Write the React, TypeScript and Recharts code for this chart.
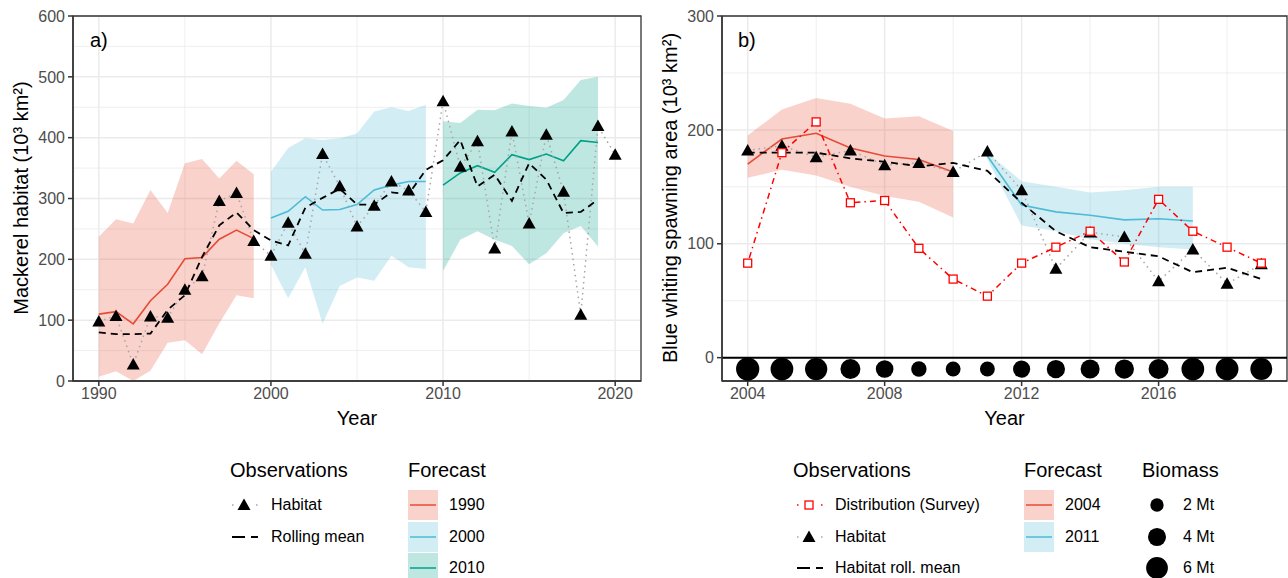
import React from 'react';
import {
  ComposedChart, Line, Area, Scatter, XAxis, YAxis, CartesianGrid, ReferenceLine, ReferenceArea,
} from 'recharts';

const FONT = '"Liberation Sans", Arial, Helvetica, sans-serif';
const RED = '#E64B35';
const BLUE = '#4DBBD5';
const GREEN = '#00A087';

// ---- a) mackerel ----
const mackYears = [1990, 1991, 1992, 1993, 1994, 1995, 1996, 1997, 1998, 1999, 2000, 2001, 2002, 2003, 2004, 2005,
  2006, 2007, 2008, 2009, 2010, 2011, 2012, 2013, 2014, 2015, 2016, 2017, 2018, 2019, 2020];
const mackHabitat = [98, 107, 27, 106, 104, 150, 172, 296, 309, 230, 206, 260, 209, 373, 320, 254,
  288, 328, 313, 278, 460, 352, 394, 218, 410, 259, 405, 311, 109, 419, 372];
// rolling mean 1990-2019
const mackRoll = [80, 77, 77, 78, 117, 141, 204, 256, 277, 248, 231, 223, 285, 301, 316, 290,
  290, 310, 307, 347, 363, 396, 320, 339, 296, 358, 331, 276, 278, 298];

const fc1990Line = [110, 114, 94, 132, 159, 201, 203, 233, 248, 234];
const fc1990Lo = [7, 16, 0, 17, 63, 67, 44, 95, 141, 136];
const fc1990Hi = [237, 266, 259, 314, 276, 358, 365, 333, 362, 340];

const fc2000Line = [268, 279, 303, 281, 282, 290, 314, 322, 328, 328];
const fc2000Lo = [191, 136, 187, 94, 156, 170, 165, 206, 187, 184];
const fc2000Hi = [344, 383, 399, 396, 399, 407, 443, 450, 444, 454];

const fc2010Line = [322, 342, 354, 343, 372, 364, 373, 362, 395, 392];
const fc2010Lo = [181, 232, 246, 232, 222, 192, 210, 243, 255, 221];
const fc2010Hi = [427, 424, 446, 445, 456, 452, 449, 462, 495, 500];

const mackTicksX = [1990, 2000, 2010, 2020];
const mackMinorX = [1995, 2005, 2015];
const mackTicksY = [0, 100, 200, 300, 400, 500, 600];
const mackMinorY = [50, 150, 250, 350, 450, 550];

// ---- b) blue whiting ----
const bwYears = [2004, 2005, 2006, 2007, 2008, 2009, 2010, 2011, 2012, 2013, 2014, 2015, 2016, 2017, 2018, 2019];
const bwSurvey = [83, 180, 207, 136, 138, 96, 69, 54, 83, 97, 111, 84, 139, 111, 97, 83];
const bwHabitat = [182, 186, 176, 182, 169, 171, 163, 181, 147, 78, 110, 106, 67, 95, 65, 82];
const bwRoll = [180, 180, 180, 175, 172, 168, 171, 164, 136, 111, 97, 93, 89, 75, 79, 69];
const bwBiomass = [6.9, 6.6, 6.3, 5.0, 3.8, 2.8, 2.6, 2.6, 3.6, 4.1, 4.5, 4.6, 5.0, 6.6, 6.6, 6.1]; // Mt

const fc2004Line = [170, 192, 197, 184, 177, 174, 163];
const fc2004Lo = [158, 165, 160, 150, 142, 137, 123];
const fc2004Hi = [195, 218, 228, 223, 210, 212, 199];

const fc2011Line = [177, 134, 128, 125, 121, 122, 120];
const fc2011Lo = [174, 116, 111, 104, 100, 97, 95];
const fc2011Hi = [180, 155, 150, 145, 147, 150, 150];

const bwTicksX = [2004, 2008, 2012, 2016];
const bwMinorX = [2006, 2010, 2014, 2018];
const bwTicksY = [0, 100, 200, 300];
const bwMinorY = [50, 150, 250];
const BIOMASS_Y = -10; // strip below zero
const legendBiomass = [2, 4, 6];

// circle area grows linearly with biomass
const bioRadius = (mt: number) => Math.sqrt(30 + 74 * mt) / 2;

function forecastAt(year: number, start: number, line: number[], lo: number[], hi: number[]) {
  const i = year - start;
  if (i < 0 || i >= line.length) return { line: null, band: null };
  return { line: line[i], band: [lo[i], hi[i]] };
}

const mackRows = mackYears.map((year, i) => {
  const a = forecastAt(year, 1990, fc1990Line, fc1990Lo, fc1990Hi);
  const b = forecastAt(year, 2000, fc2000Line, fc2000Lo, fc2000Hi);
  const c = forecastAt(year, 2010, fc2010Line, fc2010Lo, fc2010Hi);
  return {
    year,
    habitat: mackHabitat[i],
    roll: i < mackRoll.length ? mackRoll[i] : null,
    f1990: a.line, b1990: a.band,
    f2000: b.line, b2000: b.band,
    f2010: c.line, b2010: c.band,
  };
});

const bwRows = bwYears.map((year, i) => {
  const a = forecastAt(year, 2004, fc2004Line, fc2004Lo, fc2004Hi);
  const b = forecastAt(year, 2011, fc2011Line, fc2011Lo, fc2011Hi);
  return {
    year,
    survey: bwSurvey[i],
    habitat: bwHabitat[i],
    roll: bwRoll[i],
    biomass: bwBiomass[i],
    bioY: BIOMASS_Y,
    f2004: a.line, b2004: a.band,
    f2011: b.line, b2011: b.band,
  };
});

const TriangleDot = (props: any) => {
  const { cx, cy, index } = props;
  if (cx == null || cy == null) return <g key={`t-${index}`} />;
  return <path key={`t-${index}`} d={`M${cx},${cy - 6.5}L${cx + 6.5},${cy + 5}L${cx - 6.5},${cy + 5}Z`} fill="#000" stroke="none" />;
};

const SquareDot = (props: any) => {
  const { cx, cy, index } = props;
  if (cx == null || cy == null) return <g key={`s-${index}`} />;
  return <rect key={`s-${index}`} x={cx - 4} y={cy - 4} width={8} height={8} fill="#fff" stroke="#FF0000" strokeWidth={1.3} />;
};

const BioDot = (props: any) => {
  const { cx, cy, payload } = props;
  return <circle cx={cx} cy={cy} r={bioRadius(payload.biomass)} fill="#000" />;
};

const tickStyle = { fill: '#4D4D4D', fontSize: 16, fontFamily: FONT };
const txt = (extra: React.CSSProperties): React.CSSProperties => ({
  position: 'absolute', fontFamily: FONT, lineHeight: 1, whiteSpace: 'nowrap', color: '#000', ...extra,
});

const YTitle = ({ x, y, text }: { x: number; y: number; text: string }) => (
  <div style={txt({ left: x, top: y, fontSize: 20, transform: 'translate(-50%, -50%) rotate(-90deg)' })}>{text}</div>
);

const LegendText = ({ x, y, text, size = 16 }: { x: number; y: number; text: string; size?: number }) => (
  <div style={txt({ left: x, top: y - size / 2, fontSize: size })}>{text}</div>
);

const Glyph = ({ x, y, w, h, children }: any) => (
  <svg style={{ position: 'absolute', left: x, top: y }} width={w} height={h}>{children}</svg>
);

const HabitatGlyph = ({ x, y }: { x: number; y: number }) => (
  <Glyph x={x} y={y - 10} w={30} h={20}>
    <line x1={2} y1={10} x2={28} y2={10} stroke="#A6A6A6" strokeWidth={1.5} strokeDasharray="1.5 10.5" />
    <path d="M14,3.5L20.5,15L7.5,15Z" fill="#000" />
  </Glyph>
);

const RollGlyph = ({ x, y }: { x: number; y: number }) => (
  <Glyph x={x} y={y - 10} w={30} h={20}>
    <line x1={2} y1={10} x2={28} y2={10} stroke="#000" strokeWidth={2} strokeDasharray="13 6" />
  </Glyph>
);

const SurveyGlyph = ({ x, y }: { x: number; y: number }) => (
  <Glyph x={x} y={y - 10} w={30} h={20}>
    <line x1={2} y1={10} x2={28} y2={10} stroke="#FF0000" strokeWidth={1.5} strokeDasharray="1.5 10.5" />
    <rect x={10} y={6} width={8} height={8} fill="#fff" stroke="#FF0000" strokeWidth={1.3} />
  </Glyph>
);

const ForecastKey = ({ x, y, color }: { x: number; y: number; color: string }) => (
  <Glyph x={x} y={y} w={30} h={30}>
    <rect x={0} y={0} width={30} height={30} fill={color} fillOpacity={0.25} />
    <line x1={2} y1={15} x2={28} y2={15} stroke={color} strokeWidth={1.5} />
  </Glyph>
);

export default function App() {
  return (
    <div style={{ position: 'absolute', left: 0, top: 0, width: 1288, height: 578, background: '#fff', overflow: 'hidden' }}>
      {/* a) mackerel */}
      <div style={{ position: 'absolute', left: 0, top: 0 }}>
        <ComposedChart width={645} height={440} data={mackRows} margin={{ top: 16, right: 4, left: 0, bottom: 0 }}>
          <CartesianGrid verticalValues={mackMinorX} horizontalValues={mackMinorY} stroke="#EBEBEB" strokeWidth={0.8} />
          <CartesianGrid verticalValues={mackTicksX} horizontalValues={mackTicksY} stroke="#EBEBEB" strokeWidth={1.5} />
          <XAxis type="number" dataKey="year" domain={[1988.5, 2021.5]} ticks={mackTicksX} height={59}
            tickSize={5} tickMargin={2} tick={tickStyle} stroke="#333" strokeWidth={1.5}
            label={{ value: 'Year', position: 'insideBottom', offset: 15, style: { fontSize: 20, fill: '#000', fontFamily: FONT } }} />
          <YAxis type="number" domain={[0, 600]} ticks={mackTicksY} width={73} tickSize={5} tickMargin={3}
            tick={tickStyle} stroke="#333" strokeWidth={1.5} />
          <Area dataKey="b1990" type="linear" stroke="none" fill={RED} fillOpacity={0.25} isAnimationActive={false} />
          <Area dataKey="b2000" type="linear" stroke="none" fill={BLUE} fillOpacity={0.25} isAnimationActive={false} />
          <Area dataKey="b2010" type="linear" stroke="none" fill={GREEN} fillOpacity={0.25} isAnimationActive={false} />
          <Line dataKey="f1990" type="linear" stroke={RED} strokeWidth={1.6} dot={false} isAnimationActive={false} />
          <Line dataKey="f2000" type="linear" stroke={BLUE} strokeWidth={1.6} dot={false} isAnimationActive={false} />
          <Line dataKey="f2010" type="linear" stroke={GREEN} strokeWidth={1.6} dot={false} isAnimationActive={false} />
          <Line dataKey="habitat" type="linear" stroke="#A6A6A6" strokeWidth={1.5} strokeDasharray="1.5 4"
            dot={TriangleDot} activeDot={false} isAnimationActive={false} />
          <Line dataKey="roll" type="linear" stroke="#000" strokeWidth={1.8} strokeDasharray="7 5" dot={false} isAnimationActive={false} />
          <ReferenceArea x1={1988.5} x2={2021.5} y1={0} y2={600} fill="none" stroke="#333" strokeWidth={1.3} />
        </ComposedChart>
        <div style={txt({ left: 90, top: 30, fontSize: 20 })}>a)</div>
      </div>
      <YTitle x={21} y={198} text="Mackerel habitat (10³ km²)" />

      {/* b) blue whiting */}
      <div style={{ position: 'absolute', left: 650, top: 0 }}>
        <ComposedChart width={638} height={440} data={bwRows} margin={{ top: 16, right: 1, left: 0, bottom: 0 }}>
          <CartesianGrid verticalValues={bwMinorX} horizontalValues={bwMinorY} stroke="#EBEBEB" strokeWidth={0.8} />
          <CartesianGrid verticalValues={bwTicksX} horizontalValues={bwTicksY} stroke="#EBEBEB" strokeWidth={1.5} />
          <XAxis type="number" dataKey="year" domain={[2003.25, 2019.75]} ticks={bwTicksX} height={59}
            tickSize={5} tickMargin={2} tick={tickStyle} stroke="#333" strokeWidth={1.5}
            label={{ value: 'Year', position: 'insideBottom', offset: 15, style: { fontSize: 20, fill: '#000', fontFamily: FONT } }} />
          <YAxis type="number" domain={[-20.5, 300]} ticks={bwTicksY} width={72} tickSize={5} tickMargin={3}
            tick={tickStyle} stroke="#333" strokeWidth={1.5} />
          <Area dataKey="b2004" type="linear" stroke="none" fill={RED} fillOpacity={0.25} isAnimationActive={false} />
          <Area dataKey="b2011" type="linear" stroke="none" fill={BLUE} fillOpacity={0.25} isAnimationActive={false} />
          <Line dataKey="f2004" type="linear" stroke={RED} strokeWidth={1.6} dot={false} isAnimationActive={false} />
          <Line dataKey="f2011" type="linear" stroke={BLUE} strokeWidth={1.6} dot={false} isAnimationActive={false} />
          <Line dataKey="habitat" type="linear" stroke="#A6A6A6" strokeWidth={1.5} strokeDasharray="1.5 4"
            dot={TriangleDot} activeDot={false} isAnimationActive={false} />
          <Line dataKey="roll" type="linear" stroke="#000" strokeWidth={1.8} strokeDasharray="7 5" dot={false} isAnimationActive={false} />
          <Line dataKey="survey" type="linear" stroke="#FF0000" strokeWidth={1.5} strokeDasharray="1.5 4 6 4"
            dot={SquareDot} activeDot={false} isAnimationActive={false} />
          <ReferenceLine y={0} stroke="#000" strokeWidth={2} />
          <Scatter dataKey="bioY" shape={BioDot} isAnimationActive={false} />
          <ReferenceArea x1={2003.25} x2={2019.75} y1={-20.5} y2={300} fill="none" stroke="#333" strokeWidth={1.3} />
        </ComposedChart>
        <div style={txt({ left: 88, top: 30, fontSize: 20 })}>b)</div>
      </div>
      <YTitle x={670} y={198} text="Blue whiting spawning area (10³ km²)" />

      {/* legend a */}
      <LegendText x={230} y={470} text="Observations" size={20} />
      <HabitatGlyph x={230} y={505} />
      <LegendText x={271} y={505} text="Habitat" />
      <RollGlyph x={230} y={537} />
      <LegendText x={271} y={537} text="Rolling mean" />
      <LegendText x={408} y={470} text="Forecast" size={20} />
      <ForecastKey x={408} y={490} color={RED} />
      <ForecastKey x={408} y={522} color={BLUE} />
      <ForecastKey x={408} y={553} color={GREEN} />
      <LegendText x={449} y={505} text="1990" />
      <LegendText x={449} y={537} text="2000" />
      <LegendText x={449} y={568} text="2010" />

      {/* legend b */}
      <LegendText x={793} y={470} text="Observations" size={20} />
      <SurveyGlyph x={795} y={505} />
      <LegendText x={835} y={505} text="Distribution (Survey)" />
      <HabitatGlyph x={795} y={537} />
      <LegendText x={835} y={537} text="Habitat" />
      <RollGlyph x={795} y={568} />
      <LegendText x={835} y={568} text="Habitat roll. mean" />
      <LegendText x={1024} y={470} text="Forecast" size={20} />
      <ForecastKey x={1024} y={490} color={RED} />
      <ForecastKey x={1024} y={522} color={BLUE} />
      <LegendText x={1065} y={505} text="2004" />
      <LegendText x={1065} y={537} text="2011" />
      <LegendText x={1142} y={470} text="Biomass" size={20} />
      {legendBiomass.map((mt, i) => (
        <React.Fragment key={mt}>
          <Glyph x={1145} y={493 + i * 31.5} w={24} h={24}>
            <circle cx={12} cy={12} r={bioRadius(mt)} fill="#000" />
          </Glyph>
          <LegendText x={1183} y={505 + i * 31.5} text={`${mt} Mt`} />
        </React.Fragment>
      ))}
    </div>
  );
}
